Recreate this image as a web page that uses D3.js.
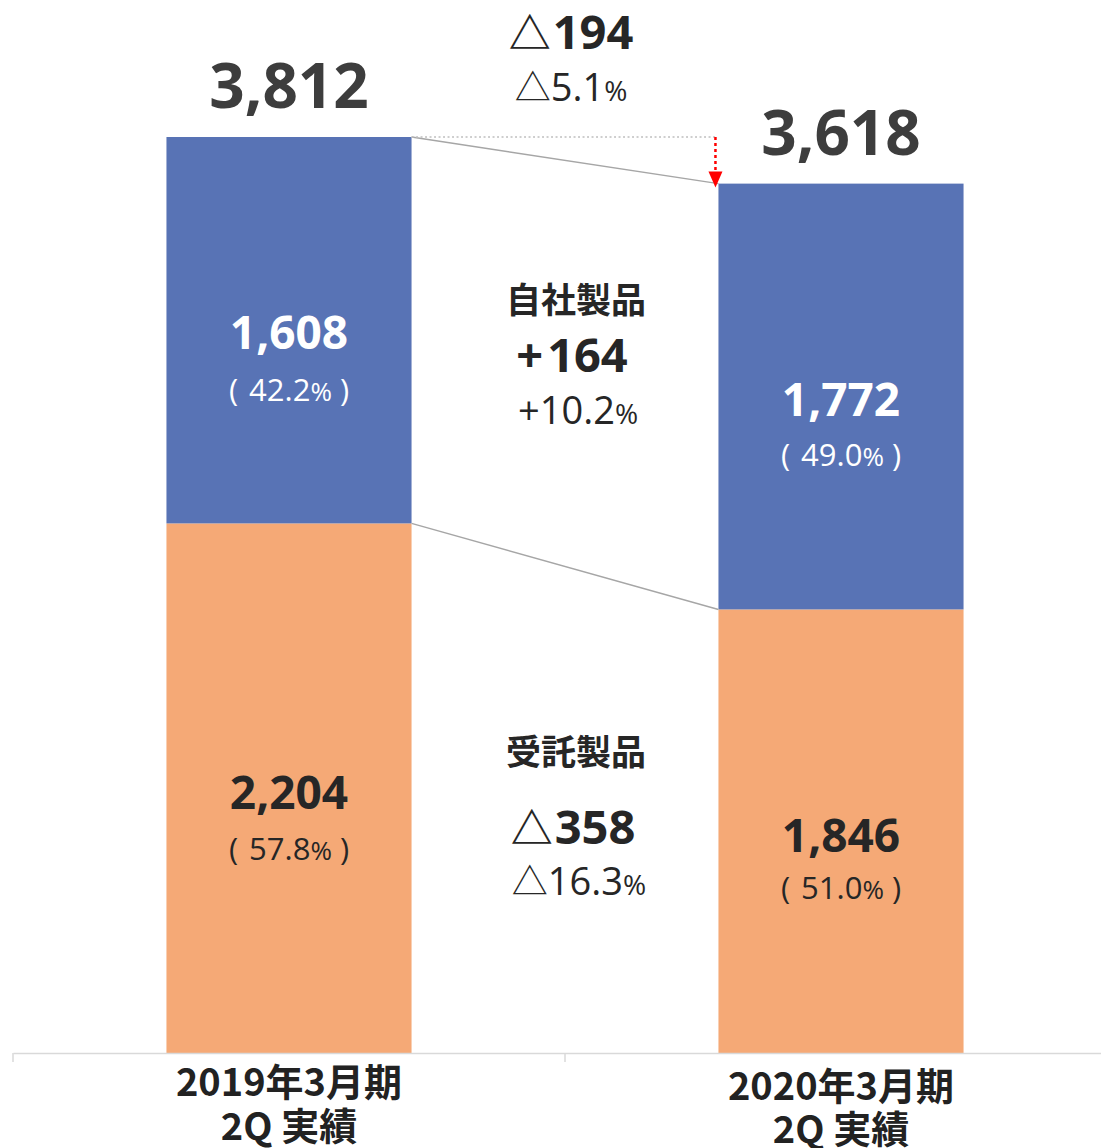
<!DOCTYPE html>
<html><head><meta charset="utf-8">
<script src="https://cdn.jsdelivr.net/npm/d3@7"></script>
<style>body{margin:0;background:#fff}svg{display:block}</style>
</head><body>
<script>
const categories = ["2019年3月期|2Q 実績", "2020年3月期|2Q 実績"];
const ownProducts = [1608, 1772];        // 自社製品
const consignment = [2204, 1846];        // 受託製品
const totals = [3812, 3618];
const ownShare = ["42.2", "49.0"];
const consShare = ["57.8", "51.0"];
const totalChange = ["△194", "△5.1"];
const ownChange = ["+164", "+10.2"];
const consChange = ["△358", "△16.3"];
const segmentNames = ["自社製品", "受託製品"];

const W = 1101, H = 1148;
const svg = d3.select("body").append("svg").attr("width", W).attr("height", H);
const NUM = "'Open Sans','Noto Sans',sans-serif";
const JP = "'Noto Sans CJK JP','Noto Sans',sans-serif";
const blue = "#5873b5", orange = "#f5a976";

const x = d3.scaleBand().domain(categories).range([13, 1117]).padding(0);
const frac = 0.444;
const bw = x.bandwidth() * frac;
const bx = c => x(c) + (x.bandwidth() - bw) / 2;
const cx = c => x(c) + x.bandwidth() / 2;
const y = d3.scaleLinear().domain([0, 3812]).range([1053, 137]);

// bars
categories.forEach((c, i) => {
  svg.append("rect").attr("x", bx(c)).attr("width", bw)
    .attr("y", y(consignment[i])).attr("height", y(0) - y(consignment[i])).attr("fill", orange);
  svg.append("rect").attr("x", bx(c)).attr("width", bw)
    .attr("y", y(consignment[i] + ownProducts[i])).attr("height", y(0) - y(ownProducts[i])).attr("fill", blue);
});

// connectors
const c0 = categories[0], c1 = categories[1];
svg.append("line").attr("x1", bx(c0) + bw).attr("y1", y(totals[0])).attr("x2", bx(c1)).attr("y2", y(totals[1]))
  .attr("stroke", "#a6a6a6").attr("stroke-width", 1.5);
svg.append("line").attr("x1", bx(c0) + bw).attr("y1", y(consignment[0])).attr("x2", bx(c1)).attr("y2", y(consignment[1]))
  .attr("stroke", "#a6a6a6").attr("stroke-width", 1.5);
svg.append("line").attr("x1", bx(c0) + bw).attr("y1", y(totals[0])).attr("x2", bx(c1) - 3).attr("y2", y(totals[0]))
  .attr("stroke", "#bfbfbf").attr("stroke-width", 1.5).attr("stroke-dasharray", "2,2.5");
svg.append("line").attr("x1", bx(c1) - 3).attr("y1", y(totals[0])).attr("x2", bx(c1) - 3).attr("y2", y(totals[1]) - 10)
  .attr("stroke", "#ff0000").attr("stroke-width", 2.5).attr("stroke-dasharray", "3,3");
svg.append("path")
  .attr("d", `M${bx(c1) - 10},${y(totals[1]) - 12} L${bx(c1) + 4},${y(totals[1]) - 12} L${bx(c1) - 3},${y(totals[1]) + 4} Z`)
  .attr("fill", "#ff0000");

// axis
const axis = svg.append("g").attr("transform", `translate(0,${y(0)})`)
  .call(d3.axisBottom(x).tickSize(0).tickFormat(""));
axis.select(".domain").attr("stroke", "#d9d9d9").attr("stroke-width", 1.5);
[13, x(c1)].forEach(t => axis.append("line").attr("x1", t).attr("x2", t).attr("y1", 0).attr("y2", 9)
  .attr("stroke", "#d9d9d9").attr("stroke-width", 1.5));

// category labels
const catY = [[1096, 1140], [1100, 1143]];
categories.forEach((c, i) => {
  c.split("|").forEach((ln, j) => {
    svg.append("text").attr("x", cx(c)).attr("y", catY[i][j]).attr("text-anchor", "middle")
      .attr("font-family", JP).attr("font-weight", 700).attr("font-size", 38).attr("fill", "#222")
      .text(ln);
  });
});

const fmt = d3.format(",");
function numLabel(xp, yp, txt, size, color) {
  svg.append("text").attr("x", xp).attr("y", yp).attr("text-anchor", "middle")
    .attr("font-family", NUM).attr("font-weight", 700).attr("font-size", size).attr("fill", color).text(txt);
}
function pctLabel(xp, yp, val, color) {
  const t = svg.append("text").attr("x", xp).attr("y", yp).attr("text-anchor", "middle")
    .attr("font-family", NUM).attr("font-weight", 400).attr("font-size", 31).attr("fill", color);
  t.append("tspan").text("(");
  t.append("tspan").attr("dx", 11).text(val);
  t.append("tspan").attr("font-size", 26).text("%");
  t.append("tspan").attr("dx", 8).text(")");
}

// totals
categories.forEach((c, i) => numLabel(cx(c), [108, 155][i], fmt(totals[i]), 62, "#3d3d3d"));
const ownY = [[349, 401], [416, 466]];
const consY = [[809, 860], [852, 899]];
categories.forEach((c, i) => {
  numLabel(cx(c), ownY[i][0], fmt(ownProducts[i]), 46, "#ffffff");
  pctLabel(cx(c), ownY[i][1], ownShare[i], "#ffffff");
  numLabel(cx(c), consY[i][0], fmt(consignment[i]), 46, "#262626");
  pctLabel(cx(c), consY[i][1], consShare[i], "#262626");
});

// middle annotations
const mx = (bx(c0) + bw + bx(c1)) / 2 + 12;
function deltaBig(xp, yp, txt) {
  const t = svg.append("text").attr("x", xp).attr("y", yp).attr("text-anchor", "middle")
    .attr("font-weight", 700).attr("font-size", 47).attr("fill", "#262626").attr("font-family", NUM);
  if (txt[0] === "△") {
    t.append("tspan").attr("font-family", JP).attr("font-weight", 700).attr("font-size", 42).text("△");
    t.append("tspan").attr("dx", 2).text(txt.slice(1));
  } else {
    t.append("tspan").text(txt[0]);
    t.append("tspan").attr("dx", 4).text(txt.slice(1));
  }
}
function deltaSmall(xp, yp, txt) {
  const t = svg.append("text").attr("x", xp).attr("y", yp).attr("text-anchor", "middle")
    .attr("font-family", NUM).attr("font-weight", 400).attr("font-size", 38).attr("fill", "#262626");
  if (txt[0] === "△") {
    t.append("tspan").attr("font-family", JP).attr("font-weight", 400).attr("font-size", 36).text("△");
    t.append("tspan").text(txt.slice(1));
  } else t.append("tspan").text(txt);
  t.append("tspan").attr("font-size", 28).text("%");
}
deltaBig(mx - 6, 49, totalChange[0]);
deltaSmall(mx - 6, 101, totalChange[1]);

svg.append("text").attr("x", mx - 1).attr("y", 313).attr("text-anchor", "middle").attr("font-family", JP)
  .attr("font-weight", 700).attr("font-size", 35).attr("fill", "#262626").text(segmentNames[0]);
deltaBig(mx - 5, 372, ownChange[0]);
deltaSmall(mx + 1, 424, ownChange[1]);

svg.append("text").attr("x", mx - 1).attr("y", 765).attr("text-anchor", "middle").attr("font-family", JP)
  .attr("font-weight", 700).attr("font-size", 35).attr("fill", "#262626").text(segmentNames[1]);
deltaBig(mx - 4, 844, consChange[0]);
deltaSmall(mx + 2, 895, consChange[1]);
</script>
</body></html>
